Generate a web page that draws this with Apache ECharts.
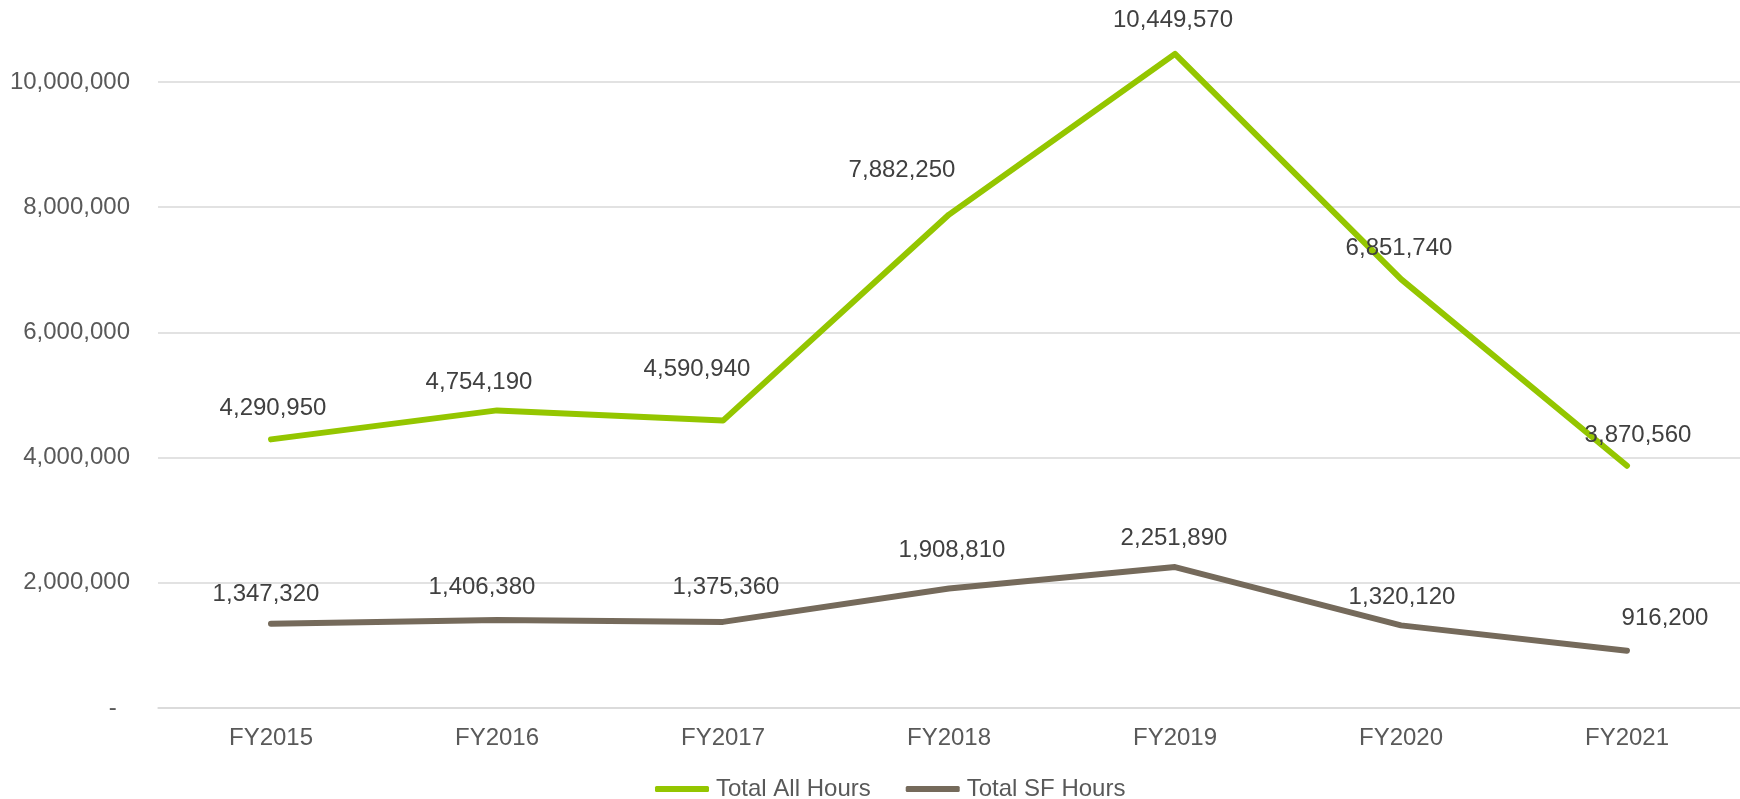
<!DOCTYPE html>
<html>
<head>
<meta charset="utf-8">
<script src="https://cdn.jsdelivr.net/npm/echarts@6/dist/echarts.min.js"></script>
<style>
    html, body { margin:0; padding:0; background:#fff; }
    #chart { width:1740px; height:799px; }
</style>
</head>
<body>
<div id="chart"></div>
<script>
// data
var years = ['FY2015','FY2016','FY2017','FY2018','FY2019','FY2020','FY2021'];
var totalAll = [4290950, 4754190, 4590940, 7882250, 10449570, 6851740, 3870560];
var totalSF = [1347320, 1406380, 1375360, 1908810, 2251890, 1320120, 916200];

// label nudges (as placed in the original)
var allShift = [[2,0],[-18,3],[-26,-20],[-47,-13],[-2,-2],[-2,0],[11,1]];
var sfShift = [[-5,2],[-15,-2],[3,-4],[3,-7],[-1,2],[1,3],[38,-1]];

var FONT = 'Liberation Sans, Arial, sans-serif';

function fmt(v){
    return v.toLocaleString('en-US');
}

function buildData(values, shifts){
    var arr = [];
    for(var i = 0; i < values.length; i++){
        arr.push({ value: values[i], label: { offset: shifts[i] } });
    }
    return arr;
}

var chart = echarts.init(document.getElementById('chart'));

var labelStyle = {
    show: true,
    position: 'top',
    distance: 18,
    fontFamily: FONT,
    fontSize: 24,
    color: '#404040',
    formatter: function(p){ return fmt(p.value); }
};

var option = {
    animation: false,
    backgroundColor: '#fff',
    grid: { left: 158, right: 0, top: 82, bottom: 91 },
    legend: {
        left: 650,
        top: 771,
        icon: 'roundRect',
        itemWidth: 54,
        itemHeight: 6,
        itemGap: 35,
        selectedMode: false,
        textStyle: {
            fontFamily: FONT,
            fontSize: 24,
            color: '#595959',
            lineHeight: 26,
            padding: [0, 0, 0, 2]
        },
        data: ['Total All Hours', 'Total SF Hours']
    },
    xAxis: {
        type: 'category',
        data: years,
        boundaryGap: true,
        axisLine: { lineStyle: { color: '#d9d9d9', width: 1.5 } },
        axisTick: { show: false },
        axisLabel: {
            margin: 18,
            fontFamily: FONT,
            fontSize: 24,
            color: '#595959'
        }
    },
    yAxis: {
        type: 'value',
        min: 0,
        max: 10000000,
        interval: 2000000,
        axisLine: { show: false },
        axisTick: { show: false },
        splitLine: { lineStyle: { color: '#d9d9d9', width: 1.5 } },
        axisLabel: {
            margin: 28,
            fontFamily: FONT,
            fontSize: 24,
            color: '#595959',
            formatter: function(v){
                if(v === 0) return '-  ';
                return fmt(v);
            }
        }
    },
    series: [
        {
            name: 'Total All Hours',
            type: 'line',
            symbol: 'circle',
            symbolSize: 2,
            showSymbol: true,
            clip: false,
            color: '#94C600',
            itemStyle: { color: '#94C600' },
            lineStyle: { width: 6, color: '#94C600', cap: 'round', join: 'round' },
            label: labelStyle,
            data: buildData(totalAll, allShift)
        },
        {
            name: 'Total SF Hours',
            type: 'line',
            symbol: 'circle',
            symbolSize: 2,
            showSymbol: true,
            clip: false,
            color: '#756A5B',
            itemStyle: { color: '#756A5B' },
            lineStyle: { width: 6, color: '#756A5B', cap: 'round', join: 'round' },
            label: labelStyle,
            data: buildData(totalSF, sfShift)
        }
    ]
};

chart.setOption(option);
</script>
</body>
</html>
